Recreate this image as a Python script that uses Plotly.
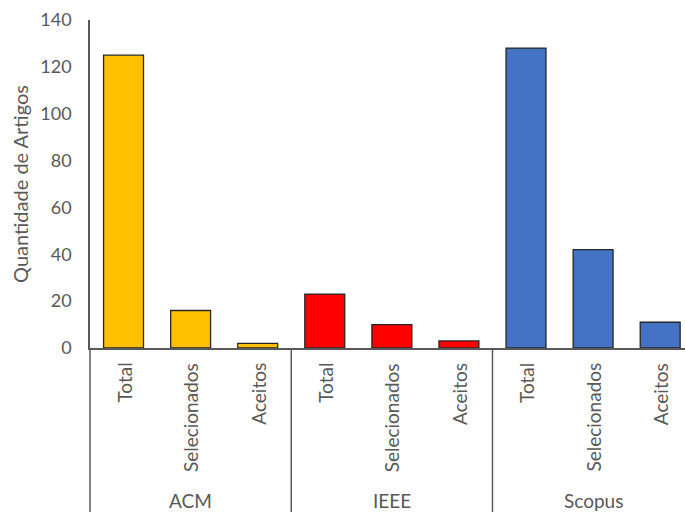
import plotly.graph_objects as go

groups = ["ACM", "IEEE", "Scopus"]
subcats = ["Total", "Selecionados", "Aceitos"]
acm = [125, 16, 2]
ieee = [23, 10, 3]
scopus = [128, 42, 11]
group_colors = ["#FFC000", "#FF0000", "#4472C4"]

values = [acm, ieee, scopus]
W, H = 685, 512
ml, mr, mt, mb = 90, 0, 20, 164
xr = [-0.5, 8.37]
font = "Lato"
gray = "#595959"

fig = go.Figure()
idx = 0
for g, vals, col in zip(groups, values, group_colors):
    xs = list(range(idx, idx + len(vals)))
    fig.add_trace(go.Bar(x=xs, y=vals, name=g, marker=dict(color=col, line=dict(color="#262626", width=1.3)),
                         showlegend=False))
    idx += len(vals)

ph = H - mt - mb
def py(pix):
    return -(pix - (H - mb)) / ph

annotations = []
shapes = []
idx = 0
for gi, (g, vals) in enumerate(zip(groups, values)):
    for si, s in enumerate(subcats):
        annotations.append(dict(x=idx + si, y=py(361), xref="x", yref="paper", text=s, textangle=-90,
                                showarrow=False, xanchor="center", yanchor="top",
                                font=dict(family=font, size=19, color=gray)))
    annotations.append(dict(x=idx + (len(vals) - 1) / 2, y=py(500), xref="x", yref="paper", text=g,
                            showarrow=False, xanchor="center", yanchor="middle",
                            font=dict(family=font, size=19, color=gray)))
    sep = idx - 0.5
    xp = (sep - xr[0]) / (xr[1] - xr[0])
    shapes.append(dict(type="line", xref="paper", yref="paper", x0=xp, x1=xp, y0=0, y1=py(H),
                       line=dict(color=gray, width=1.5)))
    idx += len(vals)

fig.update_layout(
    width=W, height=H, margin=dict(l=ml, r=mr, t=mt, b=mb),
    paper_bgcolor="white", plot_bgcolor="white",
    bargap=0.405,
    xaxis=dict(range=xr, showticklabels=False, showgrid=False, zeroline=False,
               showline=True, linecolor=gray, linewidth=1.5, ticks=""),
    yaxis=dict(range=[0, 140], dtick=20, showgrid=False, zeroline=False,
               showline=True, linecolor=gray, linewidth=1.5, ticks="",
               ticklabelstandoff=13,
               tickfont=dict(family=font, size=18, color=gray),
               title=dict(text="Quantidade de Artigos", font=dict(family=font, size=20, color=gray), standoff=6)),
    annotations=annotations, shapes=shapes,
)
fig.write_html("out.html")
